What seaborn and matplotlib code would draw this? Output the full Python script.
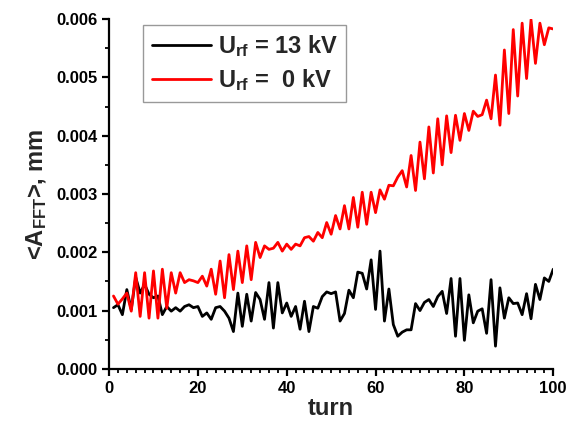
import numpy as np
import pandas as pd
import seaborn as sns
import matplotlib.pyplot as plt
from matplotlib.ticker import MultipleLocator, FormatStrFormatter

# values, one per turn
turns = list(range(1, 101))

amp_13kv = [
    0.00105, 0.00110, 0.00093, 0.00136, 0.00102, 0.00157, 0.00130, 0.00145, 0.00128, 0.00122,
    0.00125, 0.00093, 0.00107, 0.00099, 0.00105, 0.00099, 0.00107, 0.00110, 0.00105, 0.00107,
    0.00090, 0.00096, 0.00085, 0.00105, 0.00107, 0.00099, 0.00087, 0.00064, 0.00130, 0.00073,
    0.00128, 0.00082, 0.00131, 0.00119, 0.00085, 0.00148, 0.00070, 0.00148, 0.00096, 0.00113,
    0.00090, 0.00107, 0.00068, 0.00116, 0.00064, 0.00107, 0.00104, 0.00124, 0.00132, 0.00129,
    0.00132, 0.00082, 0.00095, 0.00135, 0.00122, 0.00166, 0.00164, 0.00137, 0.00187, 0.00102,
    0.00202, 0.00082, 0.00137, 0.00076, 0.00056, 0.00063, 0.00067, 0.00067, 0.00112, 0.00100,
    0.00114, 0.00119, 0.00107, 0.00124, 0.00133, 0.00095, 0.00155, 0.00056, 0.00155, 0.00049,
    0.00127, 0.00079, 0.00099, 0.00103, 0.00061, 0.00153, 0.00039, 0.00139, 0.00087, 0.00122,
    0.00112, 0.00113, 0.00093, 0.00129, 0.00086, 0.00145, 0.00119, 0.00156, 0.00150, 0.00171,
]

amp_0kv = [
    0.00125, 0.00111, 0.00120, 0.00130, 0.00099, 0.00165, 0.00090, 0.00165, 0.00087, 0.00168,
    0.00087, 0.00171, 0.00104, 0.00165, 0.00130, 0.00165, 0.00148, 0.00153, 0.00151, 0.00148,
    0.00159, 0.00142, 0.00171, 0.00128, 0.00185, 0.00122, 0.00196, 0.00136, 0.00202, 0.00148,
    0.00211, 0.00153, 0.00217, 0.00191, 0.00211, 0.00205, 0.00207, 0.00217, 0.00202, 0.00214,
    0.00205, 0.00214, 0.00211, 0.00225, 0.00227, 0.00219, 0.00234, 0.00225, 0.00251, 0.00231,
    0.00263, 0.00240, 0.00280, 0.00240, 0.00294, 0.00243, 0.00303, 0.00248, 0.00303, 0.00268,
    0.00307, 0.00291, 0.00315, 0.00314, 0.00329, 0.00340, 0.00312, 0.00366, 0.00306, 0.00389,
    0.00326, 0.00415, 0.00336, 0.00429, 0.00350, 0.00434, 0.00371, 0.00435, 0.00392, 0.00438,
    0.00409, 0.00442, 0.00433, 0.00436, 0.00461, 0.00429, 0.00504, 0.00418, 0.00547, 0.00438,
    0.00582, 0.00468, 0.00593, 0.00498, 0.00599, 0.00524, 0.00593, 0.00556, 0.00585, 0.00583,
]

labels = [r'$\mathbf{U_{rf}}$ = 13 kV', r'$\mathbf{U_{rf}}$ =  0 kV']
colors = ['black', 'red']

sns.set_style("ticks")
plt.rcParams['font.family'] = ['Liberation Sans', 'DejaVu Sans']
plt.rcParams['font.weight'] = 'bold'
plt.rcParams['mathtext.fontset'] = 'custom'
plt.rcParams['mathtext.rm'] = 'Liberation Sans:bold'
plt.rcParams['mathtext.bf'] = 'Liberation Sans:bold'
plt.rcParams['mathtext.it'] = 'Liberation Sans:bold'

df = pd.DataFrame({
    'turn': turns * 2,
    'amp': amp_13kv + amp_0kv,
    'series': [labels[0]] * len(turns) + [labels[1]] * len(turns),
})

fig, ax = plt.subplots(figsize=(5.68, 4.24), dpi=100)
fig.subplots_adjust(left=0.192, right=0.974, bottom=0.130, top=0.955)

sns.lineplot(data=df, x='turn', y='amp', hue='series', hue_order=labels,
             palette=colors, linewidth=2.0, ax=ax)

ax.set_xlim(0, 100)
ax.set_ylim(0, 0.006)
ax.xaxis.set_major_locator(MultipleLocator(20))
ax.xaxis.set_minor_locator(MultipleLocator(2))
ax.yaxis.set_major_locator(MultipleLocator(0.001))
ax.yaxis.set_minor_locator(MultipleLocator(0.0005))
ax.yaxis.set_major_formatter(FormatStrFormatter('%.3f'))

for side in ['top', 'right']:
    ax.spines[side].set_visible(False)
for side in ['left', 'bottom']:
    ax.spines[side].set_linewidth(1.6)
    ax.spines[side].set_color('black')

ax.tick_params(which='major', length=5, width=1.6, labelsize=12, colors='black')
ax.tick_params(which='minor', length=3, width=1.3, colors='black')
for lab in ax.get_xticklabels() + ax.get_yticklabels():
    lab.set_fontweight('bold')

ax.set_xlabel('turn', fontsize=17, fontweight='bold', labelpad=1)
ax.set_ylabel(r'<A$_{\mathbf{FFT}}$>, mm', fontsize=17, fontweight='bold', labelpad=5)

leg = ax.legend(loc='upper left', bbox_to_anchor=(0.077, 0.983), borderaxespad=0,
                fontsize=17, handlelength=2.5, handletextpad=0.3, frameon=True,
                fancybox=False, borderpad=0.35, labelspacing=0.35)
leg.get_frame().set_edgecolor('#808080')
leg.get_frame().set_linewidth(1.0)
for line in leg.get_lines():
    line.set_linewidth(2.0)

fig.savefig('out.png', dpi=100)
